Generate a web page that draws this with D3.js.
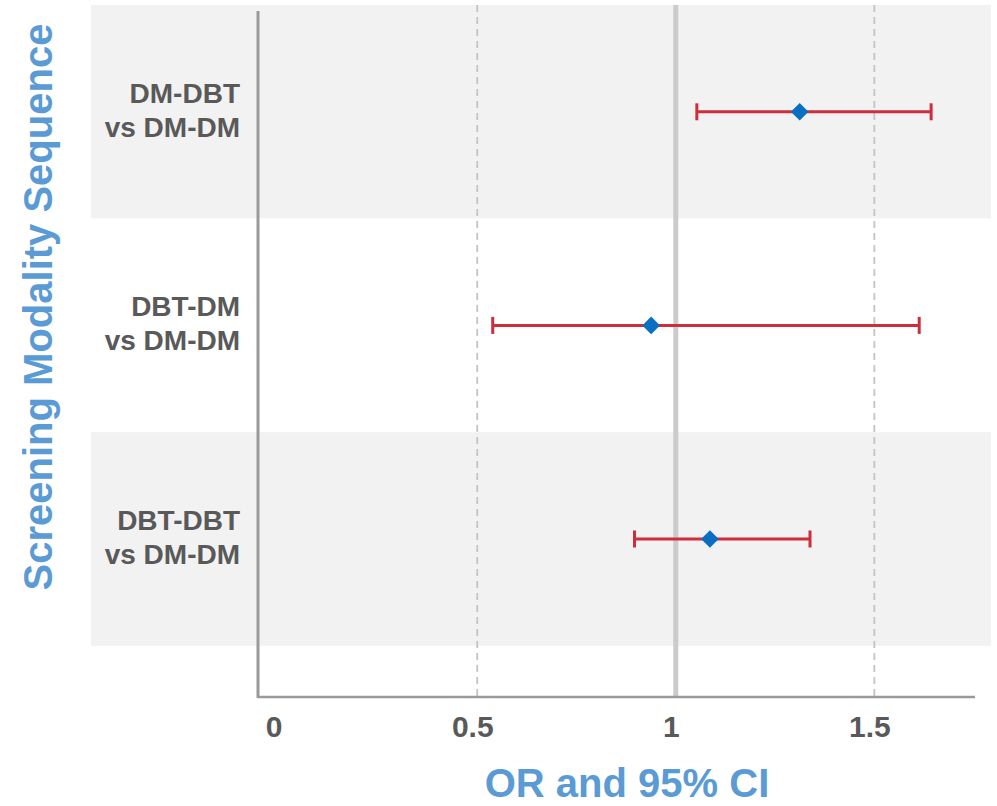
<!DOCTYPE html>
<html>
<head>
<meta charset="utf-8">
<script src="https://cdn.jsdelivr.net/npm/d3@7"></script>
<style>
  html, body { margin: 0; padding: 0; background: #ffffff; }
  svg { display: block; }
  text { font-family: "Liberation Sans", Arial, sans-serif; font-weight: bold; }
</style>
</head>
<body>
<svg id="chart" width="997" height="806"></svg>
<script>
// ---- data ----
const categories = ["DM-DBT|vs DM-DM", "DBT-DM|vs DM-DM", "DBT-DBT|vs DM-DM"];
const orValues   = [1.312, 0.938, 1.086];
const ciLower    = [1.053, 0.539, 0.896];
const ciUpper    = [1.643, 1.613, 1.338];
const xTicks     = [0, 0.5, 1, 1.5];
const xTickLabels = ["0", "0.5", "1", "1.5"];

const svg = d3.select("#chart");

const x = d3.scaleLinear().domain([-0.0521, 1.7535]).range([258, 975]);
const y = d3.scaleBand().domain(categories).range([5, 645.8]).padding(0);
const axisY = 697;

// background bands
svg.append("g").selectAll("rect").data(categories).join("rect")
  .attr("x", 91).attr("width", 900)
  .attr("y", d => y(d)).attr("height", y.bandwidth())
  .attr("fill", (d, i) => i % 2 === 0 ? "#f2f2f2" : "#ffffff");

// gridlines
svg.append("g").selectAll("line").data(xTicks.filter(t => t !== 0)).join("line")
  .attr("x1", d => x(d)).attr("x2", d => x(d))
  .attr("y1", 5).attr("y2", axisY)
  .attr("stroke", d => d === 1 ? "#cbcbcb" : "#c4c4c4")
  .attr("stroke-width", d => d === 1 ? 5 : 1.8)
  .attr("stroke-dasharray", d => d === 1 ? null : "7,5");

// axis lines
svg.append("line").attr("x1", 258).attr("x2", 258).attr("y1", 11).attr("y2", axisY + 1)
  .attr("stroke", "#9a9a9a").attr("stroke-width", 3);
svg.append("line").attr("x1", 258).attr("x2", 975).attr("y1", axisY).attr("y2", axisY)
  .attr("stroke", "#9a9a9a").attr("stroke-width", 2.5);

// x tick labels
const xAxis = d3.axisBottom(x).tickValues(xTicks).tickSize(0)
  .tickFormat((d, i) => xTickLabels[i]);
const gx = svg.append("g").attr("transform", `translate(0,${axisY})`).call(xAxis);
gx.select(".domain").remove();
gx.selectAll("text")
  .attr("y", 40).attr("dy", 0).attr("dx", -5)
  .attr("fill", "#595959")
  .style("font-size", "30px")
  .style("font-family", "'Liberation Sans', Arial, sans-serif")
  .style("font-weight", "bold");

// category labels
const lab = svg.append("g").selectAll("text").data(categories).join("text")
  .attr("text-anchor", "end")
  .attr("fill", "#595959")
  .style("font-size", "28px");
lab.each(function(d) {
  const parts = d.split("|");
  const c = y(d) + y.bandwidth() / 2;
  const t = d3.select(this);
  t.append("tspan").attr("x", 240).attr("y", c - 9).text(parts[0]);
  t.append("tspan").attr("x", 240).attr("y", c + 25).text(parts[1]);
});

// error bars
const rows = categories.map((c, i) => ({c, v: orValues[i], lo: ciLower[i], hi: ciUpper[i]}));
const eb = svg.append("g");
const red = "#cc2f3b";
eb.selectAll("line.ci").data(rows).join("line").attr("class", "ci")
  .attr("x1", d => x(d.lo)).attr("x2", d => x(d.hi))
  .attr("y1", d => y(d.c) + y.bandwidth() / 2).attr("y2", d => y(d.c) + y.bandwidth() / 2)
  .attr("stroke", red).attr("stroke-width", 3);
eb.selectAll("line.lo").data(rows).join("line").attr("class", "lo")
  .attr("x1", d => x(d.lo)).attr("x2", d => x(d.lo))
  .attr("y1", d => y(d.c) + y.bandwidth() / 2 - 8.5).attr("y2", d => y(d.c) + y.bandwidth() / 2 + 8.5)
  .attr("stroke", red).attr("stroke-width", 3);
eb.selectAll("line.hi").data(rows).join("line").attr("class", "hi")
  .attr("x1", d => x(d.hi)).attr("x2", d => x(d.hi))
  .attr("y1", d => y(d.c) + y.bandwidth() / 2 - 8.5).attr("y2", d => y(d.c) + y.bandwidth() / 2 + 8.5)
  .attr("stroke", red).attr("stroke-width", 3);

// diamonds
const diamond = d3.symbol().type(d3.symbolSquare).size(155);
svg.append("g").selectAll("path").data(rows).join("path")
  .attr("d", diamond)
  .attr("transform", d => `translate(${x(d.v)},${y(d.c) + y.bandwidth() / 2}) rotate(45)`)
  .attr("fill", "#0a6ec2");

// axis titles
svg.append("text")
  .attr("x", 627).attr("y", 797)
  .attr("text-anchor", "middle")
  .attr("fill", "#5b9bd5")
  .style("font-size", "40px")
  .text("OR and 95% CI");

svg.append("text")
  .attr("transform", "translate(52,307) rotate(-90)")
  .attr("text-anchor", "middle")
  .attr("fill", "#5b9bd5")
  .style("font-size", "40px")
  .text("Screening Modality Sequence");
</script>
</body>
</html>
